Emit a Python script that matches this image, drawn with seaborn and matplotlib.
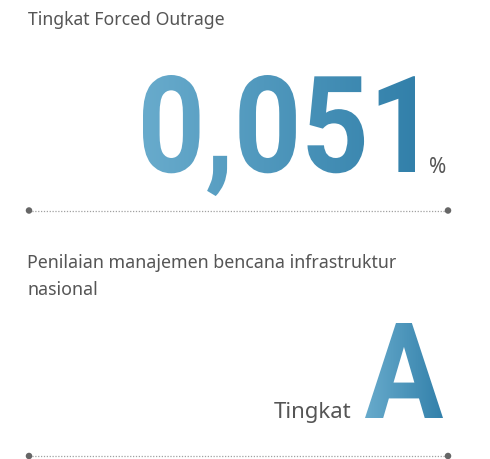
import numpy as np
import seaborn as sns
import matplotlib.pyplot as plt
from matplotlib.textpath import TextPath
from matplotlib.font_manager import FontProperties
from matplotlib.patches import PathPatch
from matplotlib.transforms import Affine2D
from matplotlib.colors import LinearSegmentedColormap

# values shown on the card
labels = ["Tingkat Forced Outrage", "Penilaian manajemen bencana infrastruktur\nnasional"]
big_values = ["0,051", "A"]
units = ["%", "Tingkat"]
divider_y = [210.5, 456]
divider_x = [29, 448]

sns.set_theme(style="white")
plt.rcParams['font.family'] = ['Noto Sans', 'DejaVu Sans']

fig = plt.figure(figsize=(4.9, 4.59), dpi=100)
ax = fig.add_axes([0, 0, 1, 1])
ax.set_xlim(0, 490)
ax.set_ylim(459, 0)
ax.axis('off')

grey = '#555555'
blue_grad = LinearSegmentedColormap.from_list('bl', ['#68abcc', '#3280aa'])
big_font = FontProperties(family='Roboto', weight='bold')


def gradient_text(s, x0, x1, top, base):
    # text as a path, squeezed into the box, filled with a left-right gradient
    path = TextPath((0, 0), s, size=100, prop=big_font)
    ref = TextPath((0, 0), s[0], size=100, prop=big_font).get_extents()
    ext = path.get_extents()
    sx = (x1 - x0) / ext.width
    sy = (base - top) / ref.y1
    tr = Affine2D().translate(-ext.x0, 0).scale(sx, -sy).translate(x0, base)
    path = tr.transform_path(path)
    e = path.get_extents()
    patch = PathPatch(path, facecolor='none', edgecolor='none', transform=ax.transData)
    ax.add_patch(patch)
    grad = np.linspace(0, 1, 256).reshape(1, -1)
    im = ax.imshow(grad, cmap=blue_grad, aspect='auto',
                   extent=[e.x0, e.x1, e.y1, e.y0], interpolation='bicubic')
    im.set_clip_path(patch)


# headings
ax.text(28, 25, labels[0], fontsize=12.7, color=grey, va='baseline', ha='left')
for i, line in enumerate(labels[1].split('\n')):
    ax.text(27, 268 + 27 * i, line, fontsize=12.8, color=grey,
            va='baseline', ha='left')

# big numbers
gradient_text(big_values[0], 143, 415, 75, 172)
ax.text(446, 173, units[0], fontsize=15, color=grey, va='baseline', ha='right')

gradient_text(big_values[1], 365, 443, 323, 418)
ax.text(351, 418, units[1], fontsize=16, color=grey, va='baseline', ha='right')

# dotted dividers with end dots
for y in divider_y:
    sns.lineplot(x=divider_x, y=[y, y], ax=ax, color='#a0a0a0',
                 linestyle=(0, (1, 1.3)), linewidth=0.9)
    sns.scatterplot(x=divider_x, y=[y, y], ax=ax, color='#666666', s=22,
                    edgecolor='none', zorder=3)

ax.set_xlim(0, 490)
ax.set_ylim(459, 0)
ax.axis('off')
fig.savefig('out.png', dpi=100)
